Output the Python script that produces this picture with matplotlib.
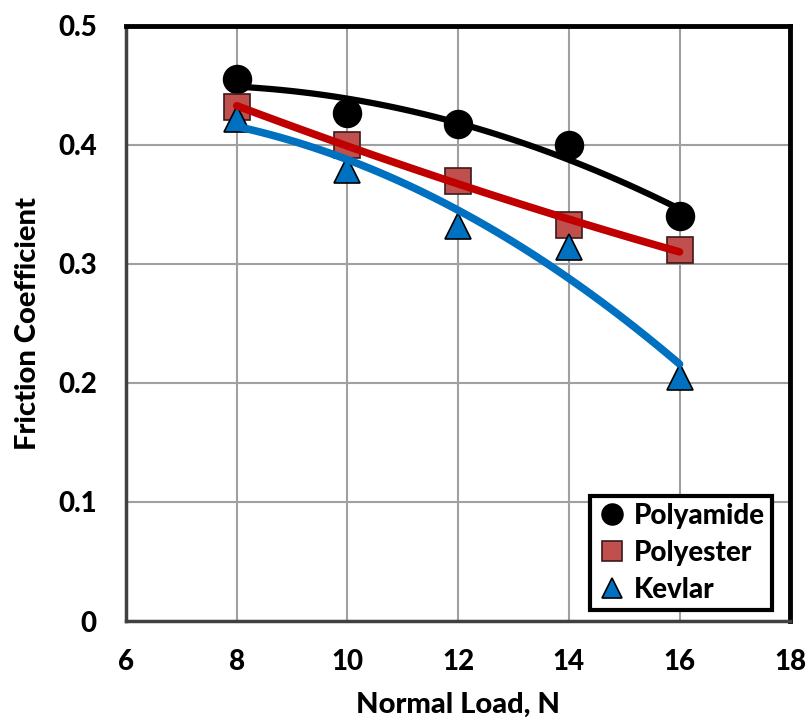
import numpy as np
import matplotlib.pyplot as plt

# normal load (N) and friction coefficient per fabric
load = [8, 10, 12, 14, 16]
polyamide = [0.455, 0.427, 0.418, 0.400, 0.340]
polyester = [0.432, 0.400, 0.370, 0.333, 0.312]
kevlar = [0.422, 0.379, 0.332, 0.314, 0.205]

plt.rcParams['font.family'] = ['Lato', 'DejaVu Sans']
plt.rcParams['font.weight'] = 'black'

fig = plt.figure(figsize=(8.08, 7.2), dpi=100)
ax = fig.add_axes([0.156, 0.1375, 0.822, 0.8265])

series = [
    ('Polyamide', polyamide, 'o', 'black', 'black', 'black', 4.5),
    ('Polyester', polyester, 's', '#c0504d', '#3a1a1a', '#c00000', 5.5),
    ('Kevlar', kevlar, '^', '#0070c0', 'black', '#0070c0', 5.5),
]

xs = np.linspace(min(load), max(load), 100)
for i, (name, vals, mk, fc, ec, lc, lw) in enumerate(series):
    ax.plot(load, vals, linestyle='none', marker=mk, markersize=19 if mk != 'o' else 20,
            markerfacecolor=fc, markeredgecolor=ec, markeredgewidth=1.2,
            label=name, zorder=3 + i, clip_on=False)
    # 2nd order polynomial trendline like the spreadsheet one
    coef = np.polyfit(load, vals, 2)
    ax.plot(xs, np.polyval(coef, xs), color=lc, linewidth=lw,
            solid_capstyle='round', zorder=7 + i)

ax.set_xlim(6, 18)
ax.set_ylim(0, 0.5)
ax.set_xticks([6, 8, 10, 12, 14, 16, 18])
ax.set_yticks([0, 0.1, 0.2, 0.3, 0.4, 0.5])
ax.set_yticklabels(['0', '0.1', '0.2', '0.3', '0.4', '0.5'])
ax.grid(True, color='#a0a0a0', linewidth=1.5)
ax.set_axisbelow(True)
ax.tick_params(length=0, labelsize=20)
ax.tick_params(axis='x', pad=20)
ax.tick_params(axis='y', pad=21)

for s in ['top', 'right']:
    ax.spines[s].set_linewidth(3.5)
    ax.spines[s].set_color('black')
for s in ['left', 'bottom']:
    ax.spines[s].set_linewidth(2.5)
    ax.spines[s].set_color('#404040')

ax.set_xlabel('Normal Load, N', fontsize=21, fontweight='black', labelpad=12)
ax.set_ylabel('Friction Coefficient', fontsize=21, fontweight='black', labelpad=12)

leg = ax.legend(loc='lower right', bbox_to_anchor=(0.973, 0.0185), borderaxespad=0,
                fontsize=20, frameon=True, fancybox=False, handletextpad=0.25,
                borderpad=0.25, labelspacing=0.4, markerscale=0.75, handlelength=1.1)
leg.get_frame().set_edgecolor('black')
leg.get_frame().set_linewidth(3)
leg.get_frame().set_alpha(1)

fig.savefig('out.png', dpi=100)
